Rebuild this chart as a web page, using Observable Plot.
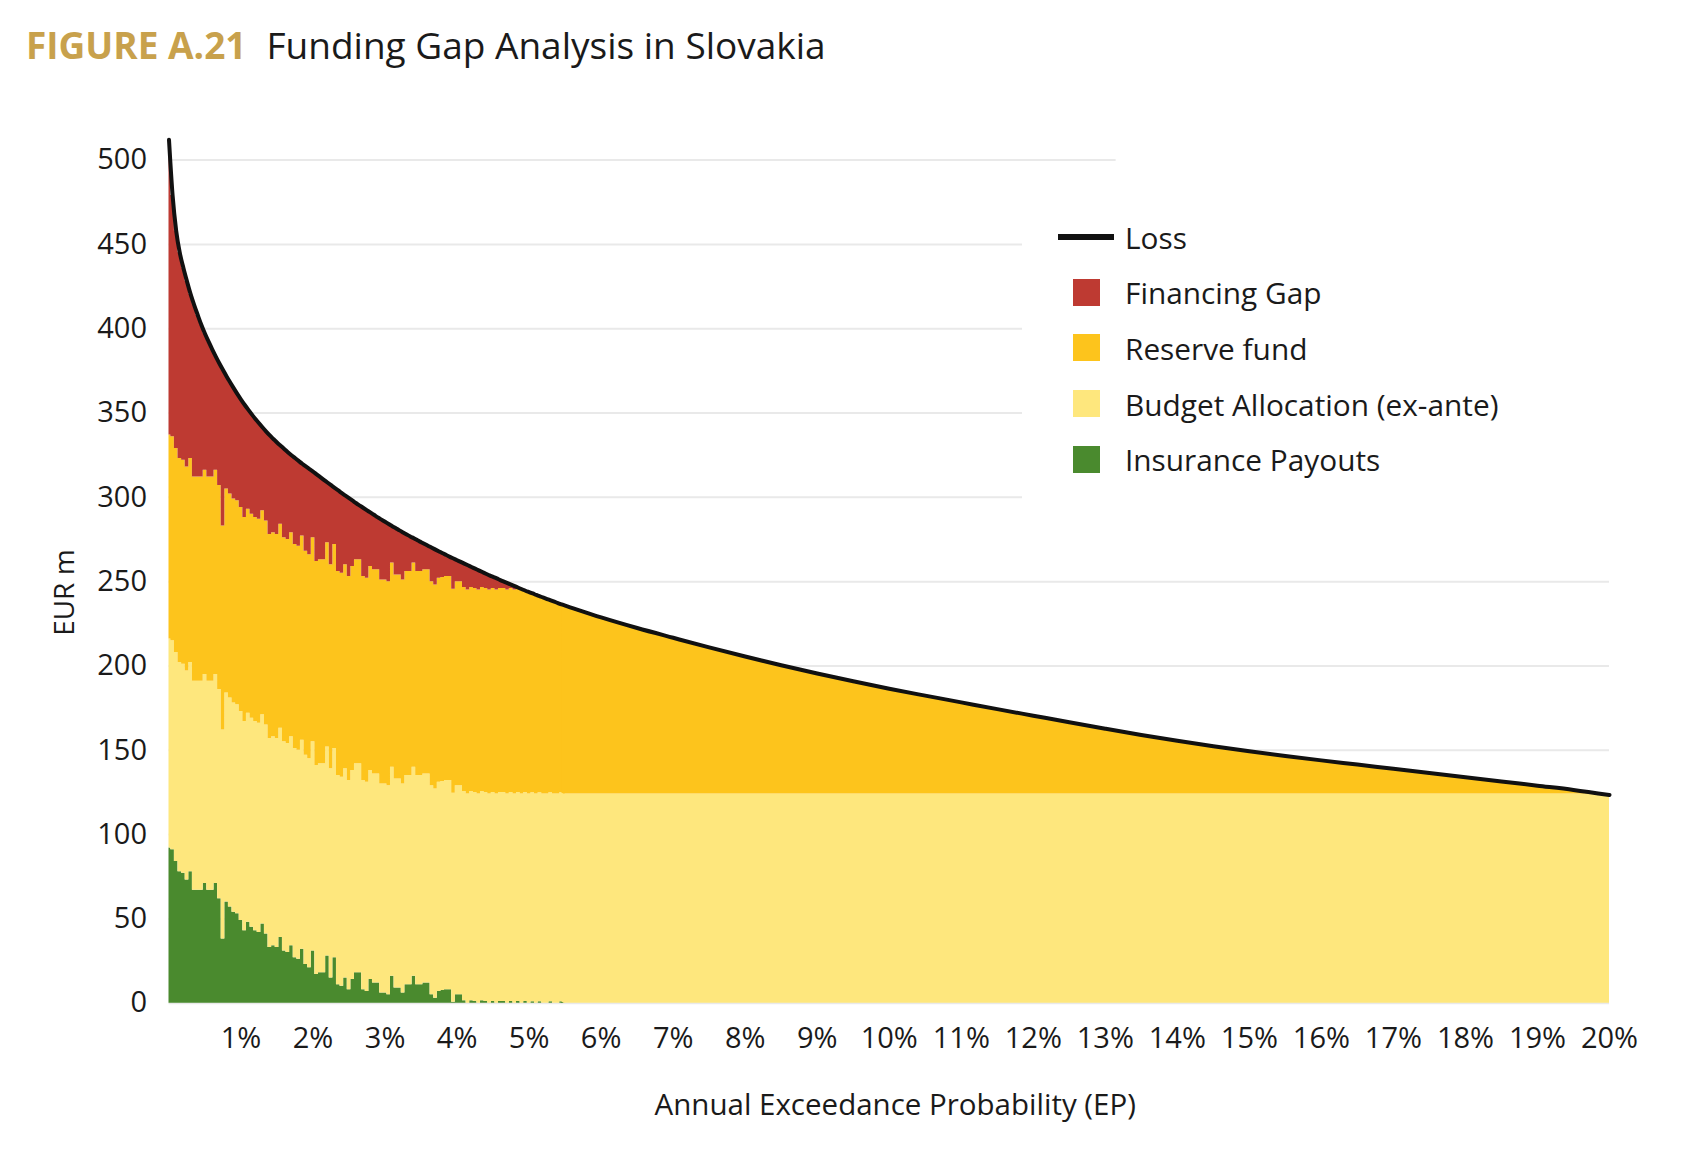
<!DOCTYPE html>
<html>
<head>
<meta charset="utf-8">
<script src="https://cdn.jsdelivr.net/npm/d3@7"></script>
<script src="https://cdn.jsdelivr.net/npm/@observablehq/plot@0.6"></script>
<style>
  html, body { margin: 0; padding: 0; background: #fff; }
  #page { position: relative; width: 1687px; height: 1160px; font-family: "Open Sans", sans-serif; color: #1a1a1a; overflow: hidden; }
  #title { position: absolute; left: 26px; top: 26px; font-size: 37px; line-height: 37px; white-space: nowrap; }
  #title .fig { color: #c8a14c; font-weight: 700; }
  #title .name { margin-left: 20px; }
  #chart { position: absolute; left: 0; top: 100px; }
  #legend { position: absolute; left: 1058px; top: 0; font-size: 29.8px; }
  #legend .row { position: absolute; left: 0; height: 40px; display: flex; align-items: center; white-space: nowrap; }
  #legend .key { width: 67px; height: 40px; position: relative; flex: none; }
  #legend .line { position: absolute; left: 0; top: 17px; width: 56px; height: 6px; background: #111; }
  #legend .swatch { position: absolute; left: 15px; top: 6px; width: 27px; height: 27px; }
</style>
</head>
<body>
<div id="page">
  <div id="title"><span class="fig">FIGURE A.21</span><span class="name">Funding Gap Analysis in Slovakia</span></div>
  <div id="chart"></div>
  <div id="legend"></div>
</div>
<script>
// Annual exceedance probability (%) of each simulated loss year
const ep = [
  0, 0.05, 0.1, 0.15, 0.2, 0.25, 0.3, 0.35, 0.4, 0.45,
  0.5, 0.55, 0.6, 0.65, 0.7, 0.75, 0.8, 0.85, 0.9, 0.95,
  1, 1.05, 1.1, 1.15, 1.2, 1.25, 1.3, 1.35, 1.4, 1.45,
  1.5, 1.55, 1.6, 1.65, 1.7, 1.75, 1.8, 1.85, 1.9, 1.95,
  2, 2.05, 2.1, 2.15, 2.2, 2.25, 2.3, 2.35, 2.4, 2.45,
  2.5, 2.55, 2.6, 2.65, 2.7, 2.75, 2.8, 2.85, 2.9, 2.95,
  3, 3.05, 3.1, 3.15, 3.2, 3.25, 3.3, 3.35, 3.4, 3.45,
  3.5, 3.55, 3.6, 3.65, 3.7, 3.75, 3.8, 3.85, 3.9, 3.95,
  4, 4.05, 4.1, 4.15, 4.2, 4.25, 4.3, 4.35, 4.4, 4.45,
  4.5, 4.55, 4.6, 4.65, 4.7, 4.75, 4.8, 4.85, 4.9, 4.95,
  5, 5.05, 5.1, 5.15, 5.2, 5.25, 5.3, 5.35, 5.4, 5.45,
  5.5,
  6, 6.5, 7, 7.5, 8, 8.5, 9, 9.5, 10, 10.5, 11, 11.5, 12, 12.5,
  13, 13.5, 14, 14.5, 15, 15.5, 16, 16.5, 17, 17.5, 18, 18.5, 19, 19.5, 20
];

// Total loss (EUR m) at each exceedance probability
const loss = [
  512, 479, 458, 445, 436, 428, 420.5, 414, 408, 402.2,
  397, 392.3, 387.8, 383.5, 379.4, 375.5, 371.7, 368.1, 364.6, 361.2,
  358, 354.9, 352, 349.2, 346.5, 343.9, 341.4, 339, 336.7, 334.6,
  332.5, 330.6, 328.7, 326.8, 325, 323.3, 321.6, 319.9, 318.3, 316.8,
  315.3, 313.6, 312, 310.4, 308.8, 307.2, 305.6, 304.1, 302.5, 301,
  299.5, 298, 296.5, 295.1, 293.7, 292.3, 290.9, 289.5, 288.1, 286.8,
  285.5, 284.2, 282.9, 281.7, 280.4, 279.2, 278, 276.8, 275.7, 274.5,
  273.4, 272.3, 271.2, 270.1, 269, 267.9, 266.8, 265.8, 264.7, 263.7,
  262.7, 261.7, 260.7, 259.7, 258.7, 257.7, 256.7, 255.7, 254.7, 253.7,
  252.8, 251.9, 250.9, 250, 249.1, 248.2, 247.3, 246.4, 245.5, 244.6,
  243.8, 243, 242.1, 241.3, 240.5, 239.7, 238.9, 238.1, 237.3, 236.5,
  235.8,
  228.8, 222.5, 216.7, 211, 205.6, 200.4, 195.5, 190.9, 186.5, 182.4, 178.4, 174.4, 170.5, 166.6,
  162.8, 159.1, 155.6, 152.4, 149.4, 146.6, 144, 141.5, 139, 136.5, 134, 131.5, 129, 126.5, 123.5
];

// Insurance payouts (EUR m); no payouts beyond 5.5%
const insurancePayouts = [
  92, 91, 84, 78, 77, 73, 78, 67, 67, 67,
  71, 67, 67, 71, 62, 38, 60, 57, 54, 53,
  49, 43, 48, 45, 43, 42, 47, 41, 33, 34,
  33, 39, 31, 30, 34, 27, 26, 32, 23, 21,
  31, 17, 18, 18, 28, 15, 27, 11, 10, 15,
  8, 14, 18, 18, 8, 7, 14, 12, 12, 6,
  6, 5, 16, 9, 9, 6, 11, 11, 16, 11,
  11, 12, 12, 5, 3, 7, 7.5, 8, 8, 0.5,
  5, 5, 1.5, 0, 1.5, 1, 0, 1.5, 1, 0,
  1, 0, 1, 1, 0, 1, 0, 1, 0, 1,
  0, 0.8, 0, 0.8, 0, 0, 0.8, 0, 0, 0.8,
  0
];

// Ex-ante budget allocation and reserve fund capacity (EUR m)
const budgetAllocation = 124;
const reserveFund = 121;

// Layers, bottom to top
const seriesNames = ["Insurance Payouts", "Budget Allocation (ex-ante)", "Reserve fund", "Financing Gap"];
const seriesColors = ["#4a8a2e", "#fee77d", "#fdc41c", "#be3a32"];

const yTicks = [0, 50, 100, 150, 200, 250, 300, 350, 400, 450, 500];
const xTicks = [1, 2, 3, 4, 5, 6, 7, 8, 9, 10, 11, 12, 13, 14, 15, 16, 17, 18, 19, 20];

// Each loss is met by insurance first, then the budget, then the reserve fund; the rest is the gap
const rows = ep.map((x, i) => {
  const L = loss[i];
  const ins = insurancePayouts[i] ?? 0;
  const bud = Math.max(0, Math.min(budgetAllocation, L - ins));
  const res = Math.max(0, Math.min(reserveFund, L - ins - bud));
  const gap = Math.max(0, L - ins - bud - res);
  return {ep: x, loss: L, parts: [ins, bud, res, gap]};
});
const layers = rows.flatMap(r => seriesNames.map((s, k) => ({ep: r.ep, series: s, value: r.parts[k]})));
// Year-by-year detail is drawn as steps; the smooth tail overlaps it by one sample
const detailEnd = 5.5;
const detailed = layers.filter(d => d.ep <= detailEnd);
const tail = layers.filter(d => d.ep >= detailEnd - 0.05);

// Gridlines stop short where the legend sits
const gridEnd = v => (v >= 500 ? 13.15 : v >= 300 ? 11.85 : 20);

const chart = Plot.plot({
  width: 1687,
  height: 1060,
  marginLeft: 168.5,
  marginRight: 78,
  marginTop: 59.6,
  marginBottom: 157.3,
  x: {domain: [0, 20]},
  y: {domain: [0, 500]},
  color: {domain: seriesNames, range: seriesColors},
  style: {fontFamily: "Open Sans, sans-serif", fontSize: "29px", color: "#1a1a1a", background: "#fff", overflow: "visible"},
  marks: [
    Plot.ruleY(yTicks, {y: d => d, x1: 0, x2: d => gridEnd(d), stroke: "#e9e9e9", strokeWidth: 2}),
    Plot.areaY(detailed, Plot.stackY({order: seriesNames}, {x: "ep", y: "value", z: "series", fill: "series", curve: "step"})),
    Plot.areaY(tail, Plot.stackY({order: seriesNames}, {x: "ep", y: "value", z: "series", fill: "series", curve: "monotone-x"})),
    Plot.lineY(rows, {x: "ep", y: "loss", stroke: "#111", strokeWidth: 4, curve: "monotone-x"}),
    Plot.axisY({ticks: yTicks, tickSize: 0, tickPadding: 22, fontSize: 29, label: null}),
    Plot.axisX({ticks: xTicks, tickFormat: d => d + "%", tickSize: 0, tickPadding: 24, fontSize: 29, label: null}),
    Plot.text(["EUR m"], {frameAnchor: "left", textAnchor: "middle", lineAnchor: "middle", rotate: -90, dx: -104, dy: 11, fontSize: 28, fill: "#1a1a1a"}),
    Plot.text(["Annual Exceedance Probability (EP)"], {frameAnchor: "bottom", textAnchor: "middle", lineAnchor: "middle", dx: 6, dy: 102, fontSize: 29.5, fill: "#1a1a1a"})
  ]
});
document.getElementById("chart").append(chart);

// Legend: the loss line, then the layers from top to bottom
const legend = document.getElementById("legend");
const items = [{label: "Loss", line: true}].concat(
  seriesNames.map((s, k) => ({label: s, color: seriesColors[k]})).reverse()
);
items.forEach((it, k) => {
  const row = document.createElement("div");
  row.className = "row";
  row.style.top = (217 + k * 55.7) + "px";
  const key = document.createElement("div");
  key.className = "key";
  const mark = document.createElement("div");
  if (it.line) {
    mark.className = "line";
  } else {
    mark.className = "swatch";
    mark.style.background = it.color;
  }
  key.append(mark);
  const label = document.createElement("span");
  label.textContent = it.label;
  row.append(key, label);
  legend.append(row);
});
</script>
</body>
</html>
